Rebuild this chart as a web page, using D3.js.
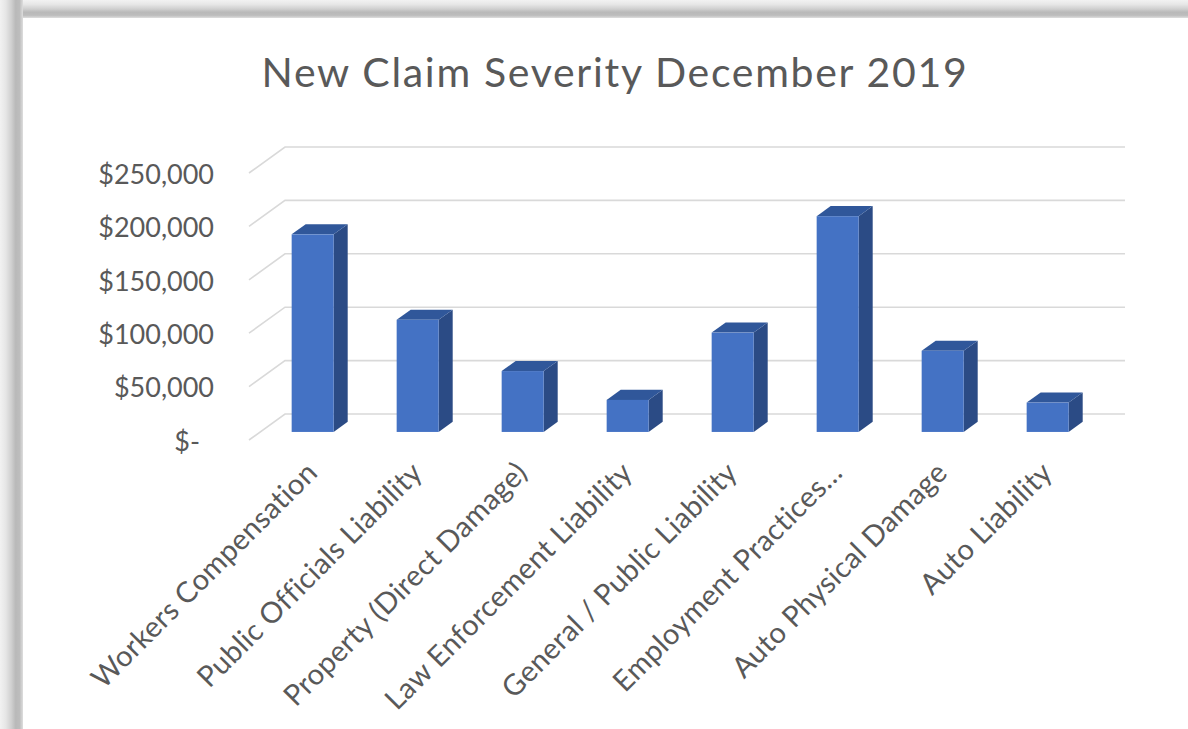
<!DOCTYPE html>
<html><head><meta charset="utf-8">
<script src="https://cdn.jsdelivr.net/npm/d3@7"></script>
<style>html,body{margin:0;padding:0;background:#fff;overflow:hidden}svg{display:block}</style>
</head><body>
<svg id="c" width="1188" height="729"></svg>
<script>
const title = "New Claim Severity December 2019";
const categories = ["Workers Compensation","Public Officials Liability","Property (Direct Damage)","Law Enforcement Liability","General / Public Liability","Employment Practices…","Auto Physical Damage","Auto Liability"];
const values = [185000,105000,57000,30000,93000,202000,76000,27500];
const tickValues = [0,50000,100000,150000,200000,250000];
const tickLabels = ["$-","$50,000","$100,000","$150,000","$200,000","$250,000"];

const svg = d3.select("#c");
const W = 1188, H = 729;
const defs = svg.append("defs");
const gT = defs.append("linearGradient").attr("id","gT").attr("x1",0).attr("y1",0).attr("x2",0).attr("y2",1);
const gL = defs.append("linearGradient").attr("id","gL").attr("x1",0).attr("y1",0).attr("x2",1).attr("y2",0);
[[0,"#f2f2f2"],[0.25,"#e6e6e6"],[0.5,"#cfcfcf"],[0.68,"#b9b9b9"],[0.85,"#bdbdbd"],[1,"#dedede"]].forEach(([o,c])=>{
  gT.append("stop").attr("offset",o).attr("stop-color",c);
  gL.append("stop").attr("offset",o).attr("stop-color",c);
});
svg.append("rect").attr("x",0).attr("y",0).attr("width",W).attr("height",18).attr("fill","url(#gT)");
svg.append("rect").attr("x",0).attr("y",0).attr("width",23).attr("height",H).attr("fill","url(#gL)");
svg.append("rect").attr("x",23).attr("y",18).attr("width",W-23).attr("height",H-18).attr("fill","#fff");

// 3D geometry
const depthX = 36, depthY = -26;
const x = d3.scaleBand().domain(categories).range([249,1089]).paddingInner(0.6).paddingOuter(0.3);
const y = d3.scaleLinear().domain([0,250000]).range([440,173]);
const fBar = 0.31, dBar = 0.39;

// gridlines
const grid = svg.append("g");
tickValues.forEach(v=>{
  const y0 = y(v);
  grid.append("path")
    .attr("d",`M${x.range()[0]},${y0}L${x.range()[0]+depthX},${y0+depthY}L${x.range()[1]+depthX},${y0+depthY}`)
    .attr("fill","none").attr("stroke","#d9d9d9").attr("stroke-width",1.6);
});

// y labels
const font = "Lato, 'Open Sans', sans-serif";
svg.append("g").selectAll("text").data(tickValues).join("text")
  .attr("x",(d,i)=> d===0 ? 200 : 214)
  .attr("y",d=>y(d)+4)
  .attr("text-anchor","end").attr("dominant-baseline","middle")
  .attr("font-family",font).attr("font-size",27).attr("fill","#595959")
  .text((d,i)=>tickLabels[i]);

// bars
const bars = svg.append("g");
const ox = fBar*depthX, oy = fBar*depthY;
const bx = dBar*depthX, by = dBar*depthY;
categories.forEach((c,i)=>{
  const v = values[i];
  const xl = x(c)+ox, xr = xl + x.bandwidth();
  const yb = y(0)+oy, yt = y(v)+oy;
  bars.append("path").attr("d",`M${xr},${yb}L${xr+bx},${yb+by}L${xr+bx},${yt+by}L${xr},${yt}Z`).attr("fill","#2b4b85");
  bars.append("path").attr("d",`M${xl},${yt}L${xl+bx},${yt+by}L${xr+bx},${yt+by}L${xr},${yt}Z`).attr("fill","#30579a");
  bars.append("rect").attr("x",xl).attr("y",yt).attr("width",xr-xl).attr("height",yb-yt).attr("fill","#4472c4");
});

// category labels
svg.append("g").selectAll("text").data(categories).join("text")
  .attr("transform",d=>`translate(${x(d)+ox+x.bandwidth()/2-10},${458}) rotate(-45)`)
  .attr("text-anchor","end").attr("dominant-baseline","hanging")
  .attr("font-family",font).attr("font-size",29).attr("letter-spacing",0.3).attr("fill","#595959")
  .text(d=>d);

// title
svg.append("text").attr("x",615).attr("y",87).attr("text-anchor","middle")
  .attr("font-family",font).attr("font-size",41).attr("letter-spacing",1.7).attr("fill","#595959").text(title);
</script>
</body></html>
